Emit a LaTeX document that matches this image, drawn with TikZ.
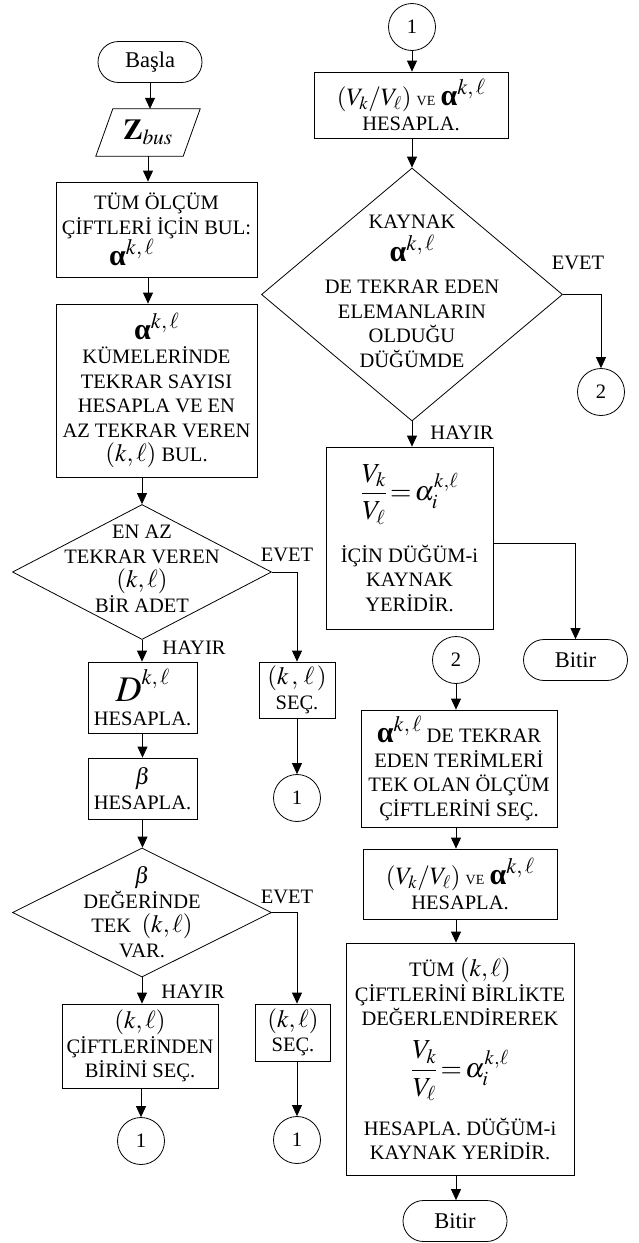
\documentclass[tikz,border=0pt]{standalone}
\usepackage{amsmath}
\usepackage{mathptmx}
\usepackage{fontspec}
\setmainfont{Liberation Serif}
\usetikzlibrary{arrows.meta,shapes.geometric}
\newcommand\alk{{\fontsize{30}{30}\selectfont\bfseries α}\raisebox{11pt}{\fontsize{22}{22}\selectfont$k,\ell$}}
\newcommand\klp{{\fontsize{25}{25}\selectfont$(k,\ell)$}}
\newcommand\vkvl{{\fontsize{25}{25}\selectfont$(V_k/V_\ell)$}}
\newcommand\fracva{{\fontsize{27.5}{27.5}\selectfont$\displaystyle\frac{V_k}{V_\ell}\,{=}\,\alpha_i^{k,\ell}$}}
\begin{document}
\begin{tikzpicture}[x=1pt,y=-1pt,
  every node/.style={font=\fontsize{20.5}{24.5}\selectfont},
  box/.style={draw,line width=0.8pt,align=center,inner sep=0pt},
  term/.style={draw,line width=0.8pt,rounded corners=20.5pt,minimum width=104pt,minimum height=41pt,inner sep=0pt,font=\fontsize{22.5}{24}\selectfont},
  conn/.style={draw,line width=0.8pt,circle,minimum size=47pt,inner sep=0pt},
  dec/.style={draw,line width=0.8pt,diamond,inner sep=0pt},
  txt/.style={align=center,inner sep=0pt},
  arr/.style={-{Triangle[length=11pt,width=10pt]},line width=0.8pt},
  ln/.style={line width=0.8pt}]
\fill[white] (0,0) rectangle (639,1243);
\useasboundingbox (0,0) rectangle (639,1243);
% left column
\node[term] (start) at (150,62) {Başla};
\node[inner sep=0pt,minimum width=87pt,minimum height=47pt] (zbus) at (148,132.5) {{\fontsize{29}{29}\selectfont$\mathbf{Z}_{bus}$}};
\draw[ln] ([xshift=8.5pt]zbus.north west) -- ([xshift=8.5pt]zbus.north east) -- ([xshift=-8.5pt]zbus.south east) -- ([xshift=-8.5pt]zbus.south west) -- cycle;
\node[box,minimum width=201pt,minimum height=95pt] (b1) at (156.5,229.5) {TÜM ÖLÇÜM\\ÇİFTLERİ İÇİN BUL:\\\hspace*{-50pt}\alk};
\node[box,minimum width=201pt,minimum height=173pt] (b2) at (156.5,390.5) {\alk\\KÜMELERİNDE\\TEKRAR SAYISI\\HESAPLA VE EN\\AZ TEKRAR VEREN\\\klp{} BUL.};
\node[dec,minimum width=259pt,minimum height=135pt] (d1) at (142,572) {};
\node[txt] (d1t) at (142,569) {EN AZ\\TEKRAR VEREN\\\klp\\BİR ADET};
\node[box,minimum width=109pt,minimum height=71pt] (bD) at (142.5,697.5) {{\fontsize{36}{36}\selectfont$D$}\raisebox{17pt}{\fontsize{22}{22}\selectfont$k,\ell$}\\HESAPLA.};
\node[box,minimum width=109pt,minimum height=61pt] (bB) at (142.5,788.5) {{\fontsize{23}{23}\selectfont$\beta$}\\HESAPLA.};
\node[dec,minimum width=259pt,minimum height=129pt] (d2) at (142,912.5) {};
\node[txt] (d2t) at (142,912) {{\fontsize{23}{23}\selectfont$\beta$}\\DEĞERİNDE\\TEK~~\klp\\VAR.};
\node[box,minimum width=156pt,minimum height=84pt] (bS) at (140,1046) {\klp\\ÇİFTLERİNDEN\\BİRİNİ SEÇ.};
\node[conn] (c1a) at (141,1141) {1};
\node[box,minimum width=76pt,minimum height=56pt] (s1) at (297,690) {{\fontsize{25}{25}\selectfont$(k\,,\,\ell\,)$}\\SEÇ.};
\node[conn] (c1b) at (297,798) {1};
\node[box,minimum width=75pt,minimum height=57pt] (s2) at (293,1032.5) {\klp\\SEÇ.};
\node[conn] (c1c) at (297,1140) {1};
\node (l1) at (287,555) {EVET};
\node (l2) at (194,648) {HAYIR};
\node (l3) at (287,897) {EVET};
\node (l4) at (193,992) {HAYIR};
% right column
\node[conn] (r1) at (412,27) {1};
\node[box,minimum width=194pt,minimum height=66pt] (rb1) at (411,105) {\vkvl~{\fontsize{14}{14}\selectfont VE}~\alk\\HESAPLA.};
\node[dec,minimum width=301pt,minimum height=253pt] (d3) at (412,294.5) {};
\node[txt] (d3t) at (412,291) {KAYNAK\\[6pt]\alk\\[8pt]DE TEKRAR EDEN\\ELEMANLARIN\\OLDUĞU\\DÜĞÜMDE};
\node[conn] (r2) at (601,392) {2};
\node (l5) at (578,263) {EVET};
\node (l6) at (462,433) {HAYIR};
\node[box,minimum width=167pt,minimum height=182pt] (rb2) at (409.5,538) {\fracva\\[20pt]İÇİN DÜĞÜM-i\\KAYNAK\\YERİDİR.};
\node[term] (end1) at (575.5,660) {Bitir};
\node[conn] (r3) at (456,660) {2};
\node[box,minimum width=196pt,minimum height=117pt] (rb3) at (459,768.5) {\alk{} DE TEKRAR\\EDEN TERİMLERİ\\TEK OLAN ÖLÇÜM\\ÇİFTLERİNİ SEÇ.};
\node[box,minimum width=194pt,minimum height=70pt] (rb4) at (460,884) {\vkvl~{\fontsize{14}{14}\selectfont VE}~\alk\\HESAPLA.};
\node[box,minimum width=228pt,minimum height=232pt] (rb5) at (460,1059) {TÜM \klp\\ÇİFTLERİNİ BİRLİKTE\\DEĞERLENDİREREK\\[14pt]\fracva\\[16pt]HESAPLA. DÜĞÜM-i\\KAYNAK YERİDİR.};
\node[term] (end2) at (455,1221) {Bitir};
% connectors left
\draw[arr] (start.south) -- (start.south |- zbus.north);
\draw[arr] (zbus.south) -- (zbus.south |- b1.north);
\draw[arr] ([xshift=-8.5pt]b1.south) -- ([xshift=-8.5pt]b1.south |- b2.north);
\draw[arr] ([xshift=-14.5pt]b2.south) -- (d1.north);
\draw[arr] (d1.south) -- (d1.south |- bD.north);
\draw[arr] (bD.south) -- (bD.south |- bB.north);
\draw[arr] (bB.south) -- (bB.south |- d2.north);
\draw[arr] (d2.south) -- (d2.south |- bS.north);
\draw[arr] (bS.south -| c1a.north) -- (c1a.north);
\draw[arr] (d1.east) -| (s1.north);
\draw[arr] (s1.south) -- (c1b.north);
\draw[arr] (d2.east) -| (c1c.north |- s2.north);
\draw[arr] (c1c.north |- s2.south) -- (c1c.north);
% connectors right
\draw[arr] (r1.south) -- (r1.south |- rb1.north);
\draw[arr] (r1.south |- rb1.south) -- (d3.north);
\draw[arr] (d3.east) -| (r2.north);
\draw[arr] (d3.south) -- (d3.south |- rb2.north);
\draw[arr] ([yshift=-5pt]rb2.east) -| (end1.north);
\draw[arr] (r3.south) -- (r3.south |- rb3.north);
\draw[arr] (r3.south |- rb3.south) -- (r3.south |- rb4.north);
\draw[arr] (r3.south |- rb4.south) -- (r3.south |- rb5.north);
\draw[arr] (r3.south |- rb5.south) -- (r3.south |- end2.north);
\end{tikzpicture}
\end{document}
